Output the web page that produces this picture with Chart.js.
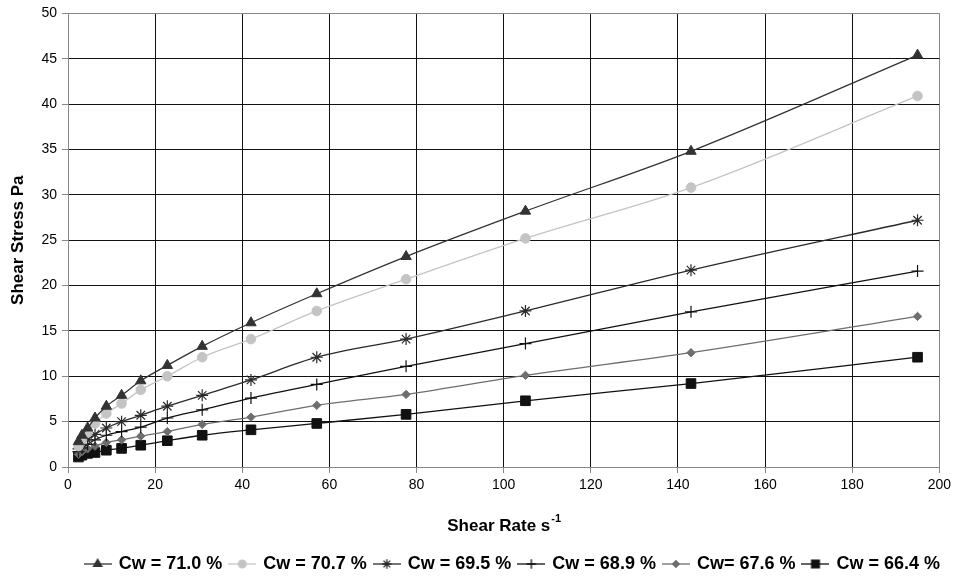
<!DOCTYPE html>
<html>
<head>
<meta charset="utf-8">
<script src="https://cdn.jsdelivr.net/npm/chart.js@4/dist/chart.umd.min.js"></script>
<style>
html,body{margin:0;padding:0;background:#fff;}
#wrap{width:955px;height:578px;position:relative;}
</style>
</head>
<body>
<div id="wrap"><canvas id="c"></canvas></div>
<script>
// ---- data ----
const shearRate = [2.4, 3.2, 4.5, 6.2, 8.8, 12.3, 16.7, 22.8, 30.8, 42, 57.1, 77.6, 105, 143, 195];
const cw710 = [2.8, 3.5, 4.3, 5.4, 6.7, 7.9, 9.5, 11.2, 13.3, 15.9, 19.1, 23.2, 28.2, 34.8, 45.4];
const cw707 = [2.3, 3.0, 3.8, 4.8, 5.9, 7.0, 8.5, 10.0, 12.1, 14.1, 17.2, 20.7, 25.2, 30.8, 40.9];
const cw695 = [2.0, 2.5, 3.0, 3.6, 4.3, 5.0, 5.7, 6.7, 7.9, 9.6, 12.1, 14.1, 17.2, 21.7, 27.2];
const cw689 = [1.7, 2.1, 2.5, 3.0, 3.5, 3.9, 4.4, 5.4, 6.3, 7.6, 9.1, 11.1, 13.6, 17.1, 21.6];
const cw676 = [1.4, 1.7, 2.0, 2.3, 2.7, 3.0, 3.4, 3.9, 4.7, 5.5, 6.8, 8.0, 10.1, 12.6, 16.6];
const cw664 = [1.1, 1.3, 1.5, 1.6, 1.85, 2.05, 2.4, 2.9, 3.5, 4.1, 4.8, 5.8, 7.3, 9.2, 12.1];
const seriesLabels = ['Cw = 71.0 %', 'Cw = 70.7 %', 'Cw = 69.5 %', 'Cw = 68.9 %', 'Cw= 67.6 %', 'Cw = 66.4 %'];
const xTitle = 'Shear Rate s';
const xTitleSup = '-1';
const yTitle = 'Shear Stress Pa';

const FONT = "'Liberation Sans', Arial, sans-serif";
const styles = [
  {color:'#333333', point:'triangle', r:6, fill:'#333333', bw:1},
  {color:'#c4c4c4', point:'circle', r:4.8, fill:'#c4c4c4', bw:1},
  {color:'#2a2a2a', point:'star', r:6, fill:'#2a2a2a', bw:1.2},
  {color:'#111111', point:'cross', r:6, fill:'#111111', bw:1.2},
  {color:'#6e6e6e', point:'rectRot', r:4.2, fill:'#6e6e6e', bw:1},
  {color:'#111111', point:'rect', r:6.8, fill:'#111111', bw:1}
];
const values = [cw710, cw707, cw695, cw689, cw676, cw664];

function toXY(ys){ return ys.map((y,i)=>({x:shearRate[i], y:y})); }

function legendImage(st){
  const cv = document.createElement('canvas');
  cv.width = 28; cv.height = 16;
  const ctx = cv.getContext('2d');
  ctx.strokeStyle = st.color; ctx.lineWidth = 1.3;
  ctx.beginPath(); ctx.moveTo(0, 8); ctx.lineTo(28, 8); ctx.stroke();
  const opts = {pointStyle: st.point, radius: st.r*0.8, borderWidth: st.bw, rotation:0};
  ctx.fillStyle = st.fill; ctx.strokeStyle = st.fill;
  Chart.helpers.drawPoint(ctx, opts, 14, 8);
  return cv;
}

const datasets = values.map((v,i)=>{
  const st = styles[i];
  return {
    label: seriesLabels[i],
    data: toXY(v),
    borderColor: st.color,
    backgroundColor: st.fill,
    borderWidth: 1.3,
    pointStyle: st.point,
    pointRadius: st.r,
    pointBorderWidth: st.bw,
    pointBorderColor: st.fill,
    pointBackgroundColor: st.fill,
    cubicInterpolationMode: 'monotone',
    fill: false
  };
});

const titlePlugin = {
  id: 'xtitle',
  afterLayout(chart){
    if (chart.legend) { chart.legend.left += 8; chart.legend.right += 8; }
  },
  afterDraw(chart){
    const ctx = chart.ctx;
    const a = chart.chartArea;
    ctx.save();
    ctx.fillStyle = '#000';
    ctx.font = "bold 17px " + FONT;
    const w1 = ctx.measureText(xTitle).width;
    ctx.font = "bold 11px " + FONT;
    const w2 = ctx.measureText(xTitleSup).width;
    const cx = (a.left + a.right)/2;
    const x0 = cx - (w1 + w2)/2;
    const y = 526;
    ctx.textBaseline = 'middle';
    ctx.textAlign = 'left';
    ctx.font = "bold 17px " + FONT;
    ctx.fillText(xTitle, x0, y);
    ctx.font = "bold 11px " + FONT;
    ctx.fillText(xTitleSup, x0 + w1 + 1, y - 7);
    ctx.restore();
  }
};

const legendImgs = styles.map(legendImage);

new Chart(document.getElementById('c'), {
  type: 'line',
  data: { datasets },
  plugins: [titlePlugin],
  options: {
    responsive: true,
    maintainAspectRatio: false,
    animation: false,
    layout: { padding: { left: 0, right: 15, top: 13, bottom: -5 } },
    plugins: {
      tooltip: { enabled: false },
      legend: {
        position: 'bottom',
        align: 'end',
        labels: {
          font: { family: FONT, size: 18, weight: 'bold' },
          color: '#000',
          usePointStyle: true,
          pointStyleWidth: 24,
          padding: 8,
          generateLabels(chart){
            return chart.data.datasets.map((ds,i)=>({
              text: ds.label,
              pointStyle: legendImgs[i],
              fillStyle: ds.backgroundColor,
              strokeStyle: ds.borderColor,
              lineWidth: 0,
              hidden: false,
              datasetIndex: i,
              fontColor: '#000'
            }));
          }
        }
      }
    },
    scales: {
      x: {
        type: 'linear',
        min: 0, max: 200,
        afterFit(s){ s.height = 80; },
        ticks: { stepSize: 20, color: '#000', font: { family: FONT, size: 14 }, padding: 4, maxRotation: 0 },
        grid: {
          color: (c)=> (c.tick && (c.tick.value === 200)) ? '#888' : '#111',
          lineWidth: 1,
          tickLength: 6,
          tickColor: '#888'
        },
        border: { color: '#888', width: 1 }
      },
      y: {
        min: 0, max: 50,
        afterFit(s){ s.width = 68; },
        ticks: { stepSize: 5, color: '#000', font: { family: FONT, size: 14 }, padding: 5 },
        title: { display: true, text: yTitle, color: '#000', font: { family: FONT, size: 17, weight: 'bold' }, padding: { top: 8, bottom: 0 } },
        grid: {
          color: (c)=> (c.tick && (c.tick.value === 50)) ? '#888' : '#111',
          lineWidth: 1,
          tickLength: 6,
          tickColor: '#888'
        },
        border: { color: '#888', width: 1 }
      }
    }
  }
});
</script>
</body>
</html>
